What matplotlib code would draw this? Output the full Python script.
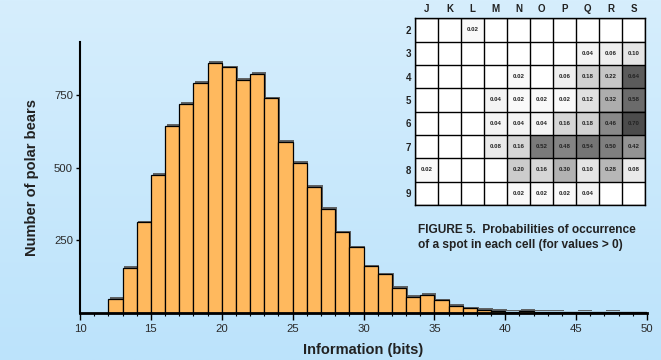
import numpy as np
import matplotlib
matplotlib.use("Agg")
import matplotlib.pyplot as plt
import matplotlib.patheffects as pe
from matplotlib.colors import LinearSegmentedColormap

plt.rcParams['font.family'] = ['Liberation Sans', 'DejaVu Sans']

# ---- data ----
bin_left = list(range(12, 50))
counts = [47, 155, 311, 475, 645, 720, 793, 863, 847, 803, 823, 740, 590, 516,
          434, 358, 277, 225, 159, 132, 86, 54, 62, 42, 24, 14, 9, 5, 2, 5,
          2, 2, 1, 2, 1, 2, 1, 1]
x_ticks = [10, 15, 20, 25, 30, 35, 40, 45, 50]
y_ticks = [250, 500, 750]

col_labels = ['J', 'K', 'L', 'M', 'N', 'O', 'P', 'Q', 'R', 'S']
row_labels = ['2', '3', '4', '5', '6', '7', '8', '9']
row2 = [0, 0, 0.02, 0, 0, 0, 0, 0, 0, 0]
row3 = [0, 0, 0, 0, 0, 0, 0, 0.04, 0.06, 0.10]
row4 = [0, 0, 0, 0, 0.02, 0, 0.06, 0.18, 0.22, 0.64]
row5 = [0, 0, 0, 0.04, 0.02, 0.02, 0.02, 0.12, 0.32, 0.58]
row6 = [0, 0, 0, 0.04, 0.04, 0.04, 0.16, 0.18, 0.46, 0.70]
row7 = [0, 0, 0, 0.08, 0.16, 0.52, 0.48, 0.54, 0.50, 0.42]
row8 = [0.02, 0, 0, 0, 0.20, 0.16, 0.30, 0.10, 0.28, 0.08]
row9 = [0, 0, 0, 0, 0.02, 0.02, 0.02, 0.04, 0, 0]
grid_vals = np.array([row2, row3, row4, row5, row6, row7, row8, row9])

W, H = 661, 360
fig = plt.figure(figsize=(W / 100, H / 100), dpi=100)

# background gradient
bg = fig.add_axes([0, 0, 1, 1], zorder=-10)
grad = np.linspace(0, 1, 256).reshape(-1, 1)
cmap_bg = LinearSegmentedColormap.from_list('bg', ['#d6eefd', '#bce3fb'])
bg.imshow(grad, aspect='auto', cmap=cmap_bg, extent=[0, 1, 0, 1])
bg.axis('off')

# main histogram
ax = fig.add_axes([80 / W, 1 - 312.5 / H, (647 - 80) / W, (312.5 - 41.7) / H])
ax.patch.set_alpha(0)
bars = ax.bar(bin_left, counts, width=1.0, align='edge', color='#FFB95E',
              edgecolor='black', linewidth=0.9, zorder=3)
for b in bars:
    b.set_path_effects([pe.SimplePatchShadow(offset=(1.2, 1.2), shadow_rgbFace='#555555', alpha=0.9),
                        pe.Normal()])
ax.set_xlim(10, 50)
ax.set_ylim(0, 935)
for s in ['top', 'right']:
    ax.spines[s].set_visible(False)
ax.spines['bottom'].set_linewidth(2.0)
ax.spines['left'].set_linewidth(1.5)
ax.spines['bottom'].set_zorder(5)
ax.set_xticks(x_ticks)
ax.set_xticks(range(10, 51), minor=True)
ax.set_yticks(y_ticks)
ax.tick_params(axis='x', which='major', direction='out', length=5, width=1, labelsize=8.2,
               labelcolor='#2a2a2a', pad=3)
ax.tick_params(axis='x', which='minor', direction='out', length=2, width=0.8)
ax.tick_params(axis='y', direction='out', length=3, width=1, labelsize=8.2, labelcolor='#2a2a2a', pad=2)
ax.set_xlabel('Information (bits)', fontsize=10.5, fontweight='bold', color='#222222', labelpad=7)
fig.text(32 / W, 1 - 177 / H, 'Number of polar bears', rotation=90, fontsize=10.5,
         fontweight='bold', color='#222222', ha='center', va='center')

# inset probability grid
tx0, ty0, tx1, ty1 = 415.3, 18.3, 645.0, 205.0
iax = fig.add_axes([tx0 / W, 1 - ty1 / H, (tx1 - tx0) / W, (ty1 - ty0) / H], zorder=10)
shade = np.clip(1 - grid_vals * 1.0, 0, 1)
rgb = np.dstack([shade, shade, shade])
iax.imshow(rgb, aspect='auto', extent=[0, 10, 8, 0], interpolation='nearest')
for i in range(11):
    iax.axvline(i, color='black', lw=1.0)
for j in range(9):
    iax.axhline(j, color='black', lw=1.0)
nr, nc = grid_vals.shape
for r in range(nr):
    for c in range(nc):
        v = grid_vals[r, c]
        if v > 0:
            iax.text(c + 0.5, r + 0.5, f'{v:.2f}', ha='center', va='center',
                     fontsize=4.4, fontweight='bold', color='#222222')
iax.set_xlim(0, 10)
iax.set_ylim(8, 0)
iax.set_xticks(np.arange(10) + 0.5)
iax.set_xticklabels(col_labels)
iax.set_yticks(np.arange(8) + 0.5)
iax.set_yticklabels(row_labels)
iax.xaxis.tick_top()
iax.tick_params(length=0, labelsize=7, pad=3)
for lab in iax.get_xticklabels() + iax.get_yticklabels():
    lab.set_fontweight('bold')
    lab.set_color('#222222')
for s in iax.spines.values():
    s.set_linewidth(1.0)

fig.text(418 / W, 1 - 237.5 / H, 'FIGURE 5.  Probabilities of occurrence\nof a spot in each cell (for values > 0)',
         fontsize=8.6, fontweight='bold', color='#222222', ha='left', va='center', linespacing=1.3)

fig.savefig('out.png', dpi=100)
